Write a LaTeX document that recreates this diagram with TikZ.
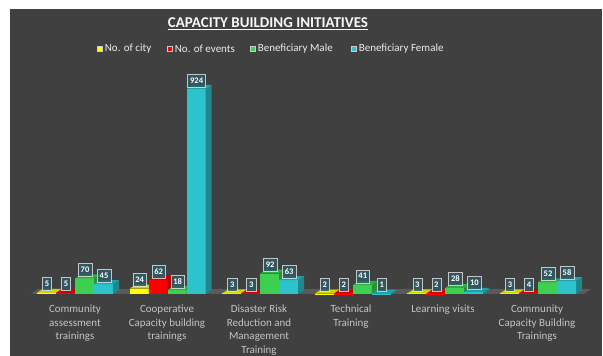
\documentclass[tikz,border=0pt]{standalone}
\usepackage{fontspec}
\setmainfont{Carlito}
\usepackage{xcolor}
\usepackage{tikz}
\usetikzlibrary{positioning}

\definecolor{panel}{HTML}{404040}
\definecolor{floorgray}{HTML}{5A5A5A}
\definecolor{cyellow}{HTML}{FFFF00}
\definecolor{cred}{HTML}{FF0000}
\definecolor{cgreen}{HTML}{3CCF50}
\definecolor{ccyan}{HTML}{2CC3CC}
\definecolor{boxfill}{HTML}{2F5B66}
\definecolor{cattext}{HTML}{C4C4C4}

\begin{document}
\begin{tikzpicture}[x=1pt,y=-1pt,
    datalabel/.style={draw=white!80!gray, draw opacity=0.8, fill=boxfill, fill opacity=0.85,
        text opacity=1, text=white, font=\bfseries\fontsize{8.5}{9}\selectfont,
        inner xsep=2.5pt, inner ysep=2pt, minimum height=13pt, anchor=south},
    catlabel/.style={anchor=north, align=center, text=cattext,
        font=\fontsize{11}{13.5}\selectfont, inner sep=0pt},
    legendkey/.style={minimum size=5pt, inner sep=0pt, draw=white!60!gray, line width=0.3pt},
    legendtext/.style={text=white!85!gray, font=\fontsize{11}{12}\selectfont, inner sep=0pt}]
        \useasboundingbox (0,0) rectangle (603,356);
        \fill[white] (0,0) rectangle (603,356);
        \fill[panel] (10,9) rectangle (602,356);

        %% Title and legend
        \node (title) at (268,24) {\color{white!95!gray}\bfseries\fontsize{15}{17}\selectfont\underline{CAPACITY BUILDING INITIATIVES}};

        \node [legendkey, fill=cyellow] (key-city) at (99.5,49) {};
        \node [legendtext, right=2.5pt of key-city] (lab-city) {No. of city};
        \node [legendkey, fill=cred] (key-events) at (169.5,49) {};
        \node [legendtext, right=2.5pt of key-events] (lab-events) {No. of events};
        \node [legendkey, fill=cgreen] (key-male) at (252.5,49) {};
        \node [legendtext, right=2.5pt of key-male] (lab-male) {Beneficiary Male};
        \node [legendkey, fill=ccyan] (key-female) at (353.5,49) {};
        \node [legendtext, right=2.5pt of key-female] (lab-female) {Beneficiary Female};

        %% Floor
        \fill[floorgray] (31,294) -- (584,294) -- (591,289) -- (38,289) -- cycle;
        \fill[floorgray!70!black] (31,294) rectangle (584,295.5);

        %% Bars
        \foreach \g/\xs/\a/\b/\c/\d in {1/37/5/5/70/45, 2/129.6/24/62/18/924, 3/222.2/3/3/92/63,
                4/314.8/2/2/41/1, 5/407.4/3/2/28/10, 6/500/3/4/52/58} {
            \foreach \v/\col [count=\s] in {\a/cyellow, \b/cred, \c/cgreen, \d/ccyan} {
                \pgfmathsetmacro\h{\v*0.2219}
                \pgfmathsetmacro\x{\xs+(\s-1)*19}
                \fill[\col] (\x,294) rectangle ++(19,-\h);
                \fill[\col!70!black] (\x+19,294) -- ++(6,-4) -- ++(0,-\h) -- ++(-6,4) -- cycle;
                \fill[\col!82!black] (\x,294-\h) -- ++(19,0) -- ++(6,-4) -- ++(-19,0) -- cycle;
            }
        }

        %% Data labels
        \foreach \g/\xs/\a/\b/\c/\d in {1/37/5/5/70/45, 2/129.6/24/62/18/924, 3/222.2/3/3/92/63,
                4/314.8/2/2/41/1, 5/407.4/3/2/28/10, 6/500/3/4/52/58} {
            \foreach \v [count=\s] in {\a, \b, \c, \d} {
                \pgfmathsetmacro\h{\v*0.2219}
                \pgfmathsetmacro\x{\xs+(\s-1)*19}
                \node [datalabel] (v-\g-\s) at (\x+10,292-\h) {\v};
            }
        }

        %% Category labels
        \node [catlabel] (cat-1) at (75,305) {Community\\assessment\\trainings};
        \node [catlabel] (cat-2) at (167,305) {Cooperative\\Capacity building\\trainings};
        \node [catlabel] (cat-3) at (259,305) {Disaster Risk\\Reduction and\\Management\\Training};
        \node [catlabel] (cat-4) at (351,305) {Technical\\Training};
        \node [catlabel] (cat-5) at (443,305) {Learning visits};
        \node [catlabel] (cat-6) at (537,305) {Community\\Capacity Building\\Trainings};
    \end{tikzpicture}
\end{document}
